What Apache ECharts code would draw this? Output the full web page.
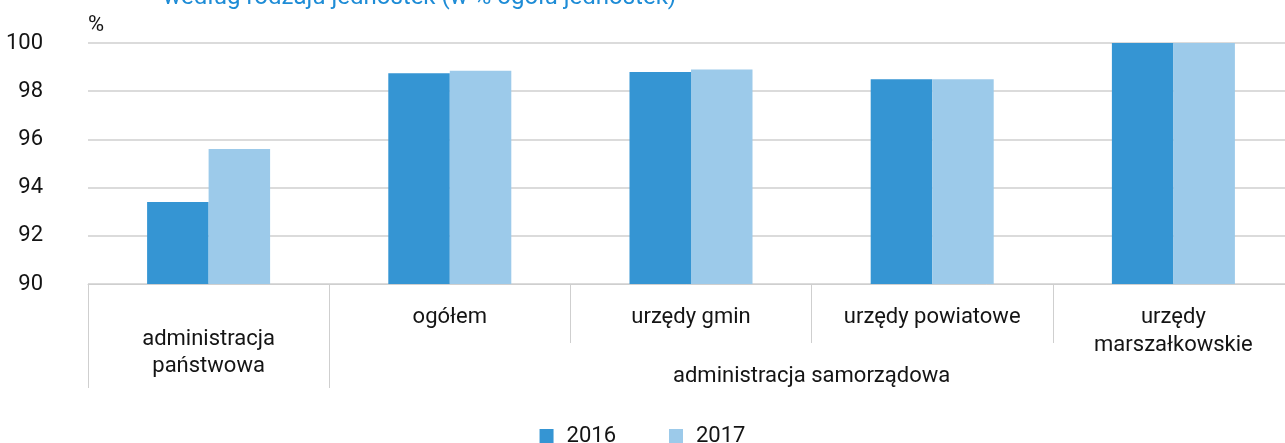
<!DOCTYPE html>
<html>
<head>
<meta charset="utf-8">
<script src="https://cdn.jsdelivr.net/npm/echarts@6/dist/echarts.min.js"></script>
<style>
  html, body { margin: 0; padding: 0; background: #fff; }
  #chart { width: 1285px; height: 443px; }
</style>
</head>
<body>
<div id="chart"></div>
<script>
// Categories: first one is drawn alone, the other four form the group below
const categories = ['administracja\npaństwowa', 'ogółem', 'urzędy gmin', 'urzędy powiatowe', 'urzędy\nmarszałkowskie'];
const groupLabel = 'administracja samorządowa';
const seriesNames = ['2016', '2017'];
const values2016 = [93.4, 98.75, 98.8, 98.5, 100];
const values2017 = [95.6, 98.85, 98.9, 98.5, 100];
const subtitle = 'według rodzaju jednostek (w % ogółu jednostek)';
const unitLabel = '%';

const FONT = 'Roboto';
const TEXT = '#141414';
const GRID = '#cfcfcf';

const chart = echarts.init(document.getElementById('chart'), null, { renderer: 'canvas' });

const n = categories.length;

chart.setOption({
  animation: false,
  textStyle: { fontFamily: FONT },
  title: {
    text: subtitle,
    left: 158,
    top: -19,
    textStyle: { fontFamily: FONT, fontSize: 24, fontWeight: 'normal', color: '#1e8cd6' }
  },
  legend: {
    data: seriesNames,
    left: 'center',
    top: 420,
    icon: 'rect',
    itemWidth: 14,
    itemHeight: 14,
    itemGap: 53,
    textStyle: { fontFamily: FONT, fontSize: 22, color: TEXT, padding: [0, 0, 0, 8] }
  },
  grid: { left: 88, top: 43, width: 1206, height: 241, outerBoundsMode: 'none', containLabel: false },
  xAxis: [
    {
      // category axis: bars + first-level labels
      type: 'category',
      position: 'bottom',
      data: categories,
      axisLine: { show: true, lineStyle: { color: GRID, width: 1 } },
      axisTick: { show: true, interval: 0, length: 59, lineStyle: { color: GRID, width: 1 } },
      axisLabel: {
        interval: 0,
        margin: 19,
        fontFamily: FONT,
        fontSize: 22,
        lineHeight: 28,
        color: TEXT,
        formatter: (v, i) => (i === 0 ? '' : v)
      }
    },
    {
      // long separators and the label of the stand-alone category
      type: 'value',
      position: 'bottom',
      min: 0,
      max: n,
      axisLine: { show: false },
      splitLine: { show: false },
      axisTick: { show: true, customValues: [0, 1], length: 104, lineStyle: { color: GRID, width: 1 } },
      axisLabel: {
        customValues: [0.5],
        margin: 42,
        fontFamily: FONT,
        fontSize: 22,
        lineHeight: 27,
        color: TEXT,
        formatter: () => categories[0]
      }
    },
    {
      // group label spanning the remaining categories
      type: 'value',
      position: 'bottom',
      min: 0,
      max: n,
      axisLine: { show: false },
      splitLine: { show: false },
      axisTick: { show: false },
      axisLabel: {
        customValues: [(1 + n) / 2],
        margin: 78,
        fontFamily: FONT,
        fontSize: 22,
        lineHeight: 28,
        color: TEXT,
        formatter: () => groupLabel
      }
    }
  ],
  yAxis: {
    type: 'value',
    min: 90,
    max: 100,
    interval: 2,
    name: unitLabel,
    nameLocation: 'end',
    nameGap: 18,
    nameTextStyle: { fontFamily: FONT, fontSize: 22, color: TEXT, align: 'left', verticalAlign: 'middle' },
    axisLine: { show: false },
    axisTick: { show: false },
    splitLine: { show: true, lineStyle: { color: GRID, width: 1.5 } },
    axisLabel: { margin: 45, fontFamily: FONT, fontSize: 22, color: TEXT }
  },
  series: [
    {
      name: seriesNames[0],
      type: 'bar',
      data: values2016,
      barGap: '0%',
      barCategoryGap: '49%',
      itemStyle: { color: '#3595d3' }
    },
    {
      name: seriesNames[1],
      type: 'bar',
      data: values2017,
      barGap: '0%',
      barCategoryGap: '49%',
      itemStyle: { color: '#9ccaea' }
    }
  ]
});
</script>
</body>
</html>
